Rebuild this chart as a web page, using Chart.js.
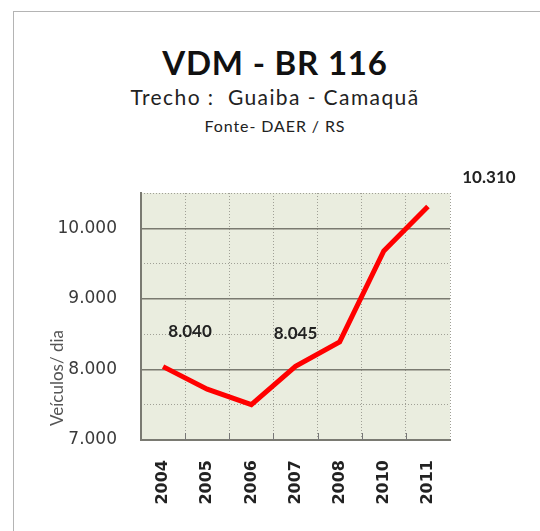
<!DOCTYPE html>
<html>
<head>
<meta charset="utf-8">
<script src="https://cdn.jsdelivr.net/npm/chart.js@4"></script>
<style>
  body { margin: 0; background: #fff; }
  #wrap { position: relative; width: 540px; height: 531px; overflow: hidden; }
  #frame { position: absolute; left: 13px; top: 11px; width: 560px; height: 560px; border: 1px solid #b4b4b4; }
  .head { position: absolute; left: 0; width: 550px; text-align: center; font-family: Lato, "Open Sans", sans-serif; color: #111; white-space: pre; }
  #t1 { top: 42px; font-size: 33px; font-weight: bold; line-height: 40px; letter-spacing: 0.8px; }
  #t2 { top: 84px; font-size: 21px; line-height: 26px; color: #222; letter-spacing: 1.4px; }
  #t3 { top: 116px; font-size: 16px; line-height: 20px; color: #222; letter-spacing: 0.9px; }
  canvas { position: absolute; left: 0; top: 0; }
</style>
</head>
<body>
<div id="wrap">
  <div id="frame"></div>
  <div class="head" id="t1">VDM - BR 116</div>
  <div class="head" id="t2">Trecho :  Guaiba - Camaquã</div>
  <div class="head" id="t3">Fonte- DAER / RS</div>
  <canvas id="chart" width="540" height="531"></canvas>
</div>
<script>
// anos e valores (veiculos/dia)
const years = ['2004', '2005', '2006', '2007', '2008', '2010', '2011'];
const vdm = [8040, 7720, 7500, 8045, 8390, 9680, 10310];
const yTicks = [7000, 8000, 9000, 10000];
const labeledYears = ['2004', '2007', '2011'];
const yTitle = 'Veículos/ dia';

const fmt = (v) => String(v).replace(/\B(?=(\d{3})+(?!\d))/g, '.');

// offsets of the value labels from their points (px)
const labelOffsets = { '2004': [27, -35], '2007': [0, -33], '2011': [61, -29] };

const extras = {
  id: 'extras',
  afterDatasetsDraw(chart) {
    const ctx = chart.ctx;
    const x = chart.scales.x, y = chart.scales.y;
    const area = chart.chartArea;
    // small inner ticks on the x axis
    ctx.save();
    ctx.strokeStyle = '#777';
    ctx.lineWidth = 1;
    for (let i = 0; i < years.length - 1; i++) {
      const px = Math.round((x.getPixelForValue(i) + x.getPixelForValue(i + 1)) / 2) + 0.5;
      ctx.beginPath();
      ctx.moveTo(px, area.bottom);
      ctx.lineTo(px, area.bottom - 7);
      ctx.stroke();
    }
    ctx.restore();

    // value labels
    ctx.save();
    ctx.font = 'bold 17px Lato, sans-serif';
    ctx.fillStyle = '#222';
    ctx.textAlign = 'center';
    ctx.textBaseline = 'middle';
    labeledYears.forEach((yr) => {
      const i = years.indexOf(yr);
      const off = labelOffsets[yr];
      ctx.fillText(fmt(vdm[i]), x.getPixelForValue(i) + off[0], y.getPixelForValue(vdm[i]) + off[1]);
    });
    ctx.restore();

    // y axis title
    ctx.save();
    ctx.translate(58, 378);
    ctx.rotate(-Math.PI / 2);
    ctx.font = '17px Lato, sans-serif';
    ctx.fillStyle = '#555';
    ctx.textAlign = 'center';
    ctx.textBaseline = 'middle';
    ctx.fillText(yTitle, 0, 0);
    ctx.restore();
  }
};

const plotBg = {
  id: 'plotBg',
  beforeDraw(chart) {
    const a = chart.chartArea;
    chart.ctx.save();
    chart.ctx.fillStyle = '#eaeddf';
    chart.ctx.fillRect(a.left, a.top, a.right - a.left, a.bottom - a.top);
    chart.ctx.restore();
  }
};

new Chart(document.getElementById('chart'), {
  type: 'line',
  data: {
    labels: years,
    datasets: [{
      data: vdm,
      xAxisID: 'x',
      yAxisID: 'y',
      borderColor: '#ff0000',
      borderWidth: 5,
      pointRadius: 0,
      tension: 0,
      fill: false
    }]
  },
  options: {
    responsive: false,
    animation: false,
    layout: { padding: { top: 193, right: 90, left: 0, bottom: 0 } },
    plugins: { legend: { display: false }, tooltip: { enabled: false } },
    scales: {
      x: {
        offset: true,
        grid: { offset: true, drawTicks: false, color: '#a0a096', lineWidth: 1 },
        border: { display: true, color: '#7a7a72', width: 2, dash: [1, 2] },
        ticks: {
          minRotation: 90, maxRotation: 90, padding: 20, autoSkip: false,
          color: '#222', font: { family: 'DejaVu Sans', size: 16, weight: 'bold' }
        },
        afterFit(s) { s.height = 91; }
      },
      y: {
        position: 'left',
        min: 7000, max: 10500,
        afterBuildTicks(s) { s.ticks = yTicks.map((v) => ({ value: v })); },
        ticks: {
          padding: 24, color: '#3a3a3a', autoSkip: false,
          font: { family: 'DejaVu Sans', size: 17 },
          callback: (v) => fmt(v)
        },
        grid: { drawTicks: false, color: '#7a7a70', lineWidth: 1.5 },
        border: { display: true, color: '#7a7a72', width: 2 },
        afterFit(s) { s.width = 141; }
      },
      y2: {
        position: 'left',
        min: 7000, max: 10500,
        ticks: { stepSize: 500, display: false, autoSkip: false },
        grid: {
          drawTicks: false,
          color: (c) => (c.tick && c.tick.value % 1000 === 0) ? 'rgba(0,0,0,0)' : '#a0a096',
          lineWidth: 1
        },
        border: { display: false, dash: [1, 2] },
        afterFit(s) { s.width = 0; }
      }
    }
  },
  plugins: [plotBg, extras]
});
</script>
</body>
</html>
